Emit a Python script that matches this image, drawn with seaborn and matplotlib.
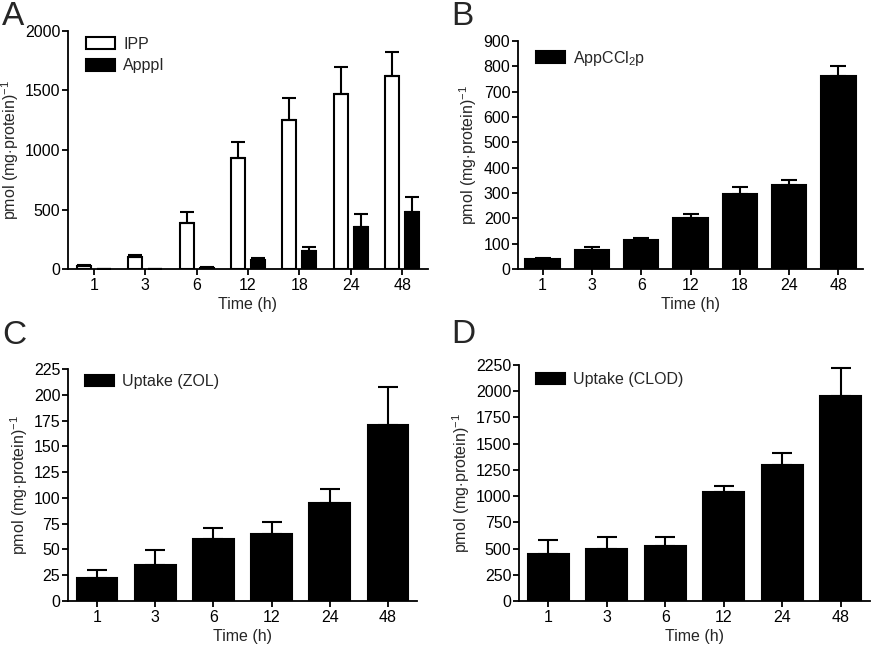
import matplotlib
matplotlib.use("Agg")
import matplotlib.pyplot as plt
import numpy as np
import pandas as pd
import seaborn as sns

# panel A: IPP / ApppI formation
times_a = ["1", "3", "6", "12", "18", "24", "48"]
ipp = [25, 105, 390, 930, 1250, 1470, 1625]
ipp_err = [5, 15, 85, 140, 185, 230, 200]
apppi = [0, 0, 10, 75, 155, 355, 475]
apppi_err = [0, 0, 5, 20, 30, 105, 130]

# panel B: AppCCl2p formation
times_b = ["1", "3", "6", "12", "18", "24", "48"]
appccl2p = [40, 77, 114, 200, 295, 330, 760]
appccl2p_err = [5, 11, 10, 19, 28, 20, 40]

# panel C: zoledronate uptake
times_c = ["1", "3", "6", "12", "24", "48"]
zol = [22, 35, 60, 65, 95, 171]
zol_err = [8, 14, 11, 12, 14, 37]

# panel D: clodronate uptake
times_d = ["1", "3", "6", "12", "24", "48"]
clod = [450, 500, 525, 1035, 1300, 1955]
clod_err = [135, 110, 85, 65, 115, 265]

sns.set_style("ticks")
plt.rcParams["font.family"] = ["Liberation Sans", "DejaVu Sans"]
plt.rcParams["mathtext.fontset"] = "custom"
plt.rcParams["mathtext.rm"] = "Liberation Sans"
plt.rcParams["mathtext.it"] = "Liberation Sans:italic"
plt.rcParams["font.size"] = 11.5
plt.rcParams["axes.linewidth"] = 1.3
plt.rcParams["xtick.major.width"] = 1.3
plt.rcParams["ytick.major.width"] = 1.3
plt.rcParams["xtick.major.size"] = 4
plt.rcParams["ytick.major.size"] = 4
plt.rcParams["xtick.major.pad"] = 2.5
plt.rcParams["ytick.major.pad"] = 1.5
plt.rcParams["xtick.color"] = "black"
plt.rcParams["ytick.color"] = "black"
plt.rcParams["axes.edgecolor"] = "black"

YLABEL = r"pmol (mg$\cdot$protein)$^{\mathregular{-1}}$"

fig = plt.figure(figsize=(8.75, 6.47), dpi=100)
ax_a = fig.add_axes([0.0777, 0.5842, 0.4114, 0.3679])
ax_b = fig.add_axes([0.5920, 0.5842, 0.3943, 0.3524])
ax_c = fig.add_axes([0.0777, 0.0711, 0.3989, 0.3586])
ax_d = fig.add_axes([0.5931, 0.0711, 0.4011, 0.3648])


def add_errors(ax, errs, capsize):
    # one-sided (upper) error bars on top of each bar
    for container, err in zip(ax.containers, errs):
        xs = [b.get_x() + b.get_width() / 2 for b in container]
        ys = [b.get_height() for b in container]
        ax.errorbar(xs, ys, yerr=[np.zeros(len(err)), err], fmt="none",
                    ecolor="black", elinewidth=1.5, capsize=capsize,
                    capthick=1.5, zorder=1)


def style_axes(ax, ymax, step, legend_pos):
    ax.set_ylim(0, ymax)
    ax.set_yticks(np.arange(0, ymax + 1, step))
    ax.set_xlim(-0.5, len(ax.get_xticks()) - 0.5)
    ax.set_xlabel("Time (h)", labelpad=3)
    ax.set_ylabel(YLABEL, labelpad=3)
    sns.despine(ax=ax)
    leg = ax.get_legend()
    handles = leg.legend_handles
    labels = [t.get_text() for t in leg.get_texts()]
    ax.legend(handles, labels, loc="upper left", bbox_to_anchor=legend_pos,
              bbox_transform=fig.transFigure, frameon=False, borderpad=0,
              borderaxespad=0, handlelength=1.85, handleheight=0.75,
              handletextpad=0.5, labelspacing=0.4)


# A
df_a = pd.DataFrame({
    "time": times_a * 2,
    "value": ipp + apppi,
    "series": ["IPP"] * len(times_a) + ["ApppI"] * len(times_a),
})
sns.barplot(data=df_a, x="time", y="value", hue="series", order=times_a,
            hue_order=["IPP", "ApppI"], palette={"IPP": "white", "ApppI": "black"},
            edgecolor="black", linewidth=1.5, width=0.78, gap=0.3,
            errorbar=None, ax=ax_a)
add_errors(ax_a, [ipp_err, apppi_err], 4.7)
style_axes(ax_a, 2000, 500, (0.098, 0.943))


def single_panel(ax, times, vals, errs, name, ymax, step, cap, pos):
    df = pd.DataFrame({"time": times, "value": vals, "series": [name] * len(times)})
    sns.barplot(data=df, x="time", y="value", hue="series", order=times,
                palette={name: "black"}, edgecolor="black", linewidth=1.5,
                width=0.7, errorbar=None, ax=ax)
    add_errors(ax, [errs], cap)
    style_axes(ax, ymax, step, pos)


single_panel(ax_b, times_b, appccl2p, appccl2p_err,
             r"AppCCl$_{\mathregular{2}}$p", 900, 100, 5.5, (0.612, 0.925))
single_panel(ax_c, times_c, zol, zol_err, "Uptake (ZOL)", 225, 25, 7.5,
             (0.097, 0.422))
single_panel(ax_d, times_d, clod, clod_err, "Uptake (CLOD)", 2250, 250, 7.5,
             (0.612, 0.425))

# panel letters
for x, y, letter in [(0.002, 0.998, "A"), (0.516, 0.998, "B"),
                     (0.002, 0.505, "C"), (0.516, 0.507, "D")]:
    fig.text(x, y, letter, fontsize=24, ha="left", va="top")

fig.savefig("out.png", dpi=100)
